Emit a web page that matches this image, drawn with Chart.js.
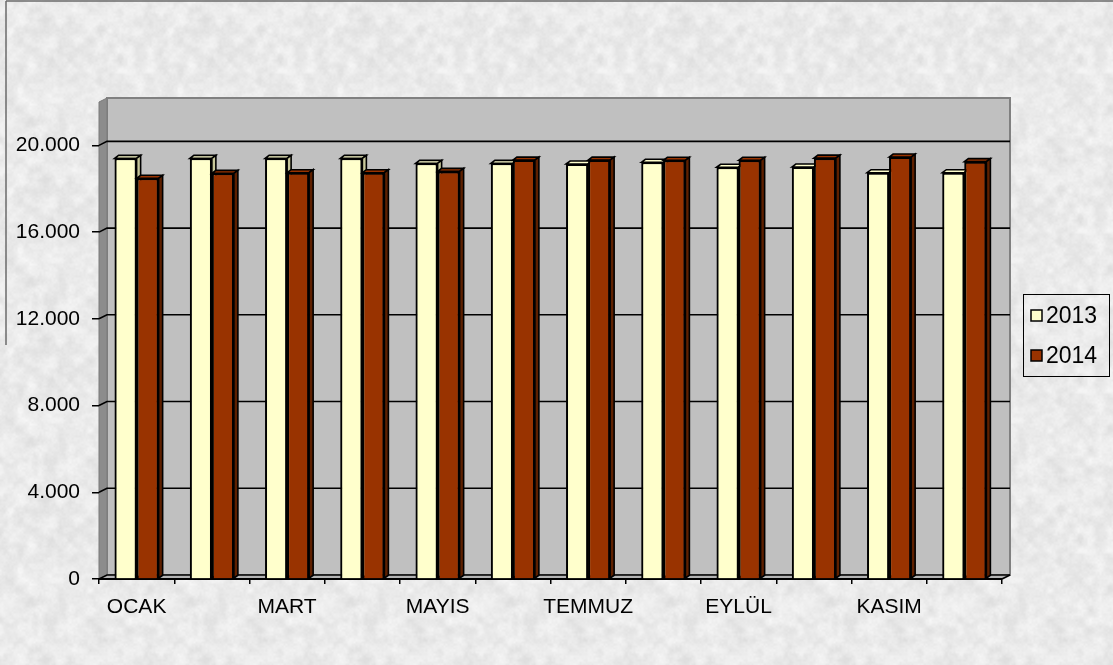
<!DOCTYPE html>
<html><head><meta charset="utf-8">
<script src="https://cdn.jsdelivr.net/npm/chart.js@4"></script>
<style>html,body{margin:0;padding:0;background:#e8e8e8;}#wrap{width:1113px;height:665px;}</style>
</head><body><div id="wrap"><canvas id="c" width="1113" height="665"></canvas></div>
<script>
const months = ['OCAK','ŞUBAT','MART','NİSAN','MAYIS','HAZİRAN','TEMMUZ','AĞUSTOS','EYLÜL','EKİM','KASIM','ARALIK'];
const values2013 = [19400,19400,19400,19400,19170,19170,19140,19220,18990,19000,18740,18740];
const values2014 = [18480,18710,18740,18740,18800,19320,19320,19310,19310,19410,19460,19250];
const seriesNames = ['2013','2014'];
const yTicks = [0,4000,8000,12000,16000,20000];
const yMax = 22000;

const FONT = '"Liberation Sans", Arial, sans-serif';
Chart.defaults.font.family = FONT;
Chart.defaults.color = '#000';

const wallD = {dx: 8, dy: -4};
const barD = {dx: 4, dy: -3};
const styles = [
  {front: '#FFFFCC', top: '#FFFFCC', side: '#C8C89A'},
  {front: '#993300', top: '#993300', side: '#5E2000'}
];

function hash(i, j) {
  let h = (Math.imul(i, 374761393) + Math.imul(j, 668265263)) | 0;
  h = Math.imul(h ^ (h >>> 13), 1274126177);
  h = h ^ (h >>> 16);
  return (h >>> 0) / 4294967295;
}
function makePattern(ctx) {
  const N = 160;
  const c = document.createElement('canvas');
  c.width = N; c.height = N;
  const g = c.getContext('2d');
  const img = g.createImageData(N, N);
  function noise(x, y, cell, seed) {
    const cells = N / cell;
    const gx = x / cell, gy = y / cell;
    const i0 = Math.floor(gx), j0 = Math.floor(gy);
    const fx = gx - i0, fy = gy - j0;
    const sx = fx * fx * (3 - 2 * fx), sy = fy * fy * (3 - 2 * fy);
    const H = (i, j) => hash((i % cells) + seed, (j % cells) + seed * 7);
    const a = H(i0, j0), b = H(i0 + 1, j0), cc = H(i0, j0 + 1), d = H(i0 + 1, j0 + 1);
    return (a * (1 - sx) + b * sx) * (1 - sy) + (cc * (1 - sx) + d * sx) * sy;
  }
  for (let y = 0; y < N; y++) for (let x = 0; x < N; x++) {
    const n = 0.5 * noise(x, y, 10, 11) + 0.3 * noise(x, y, 5, 23) + 0.2 * noise(x, y, 2, 37);
    const v = Math.round(234 + (n - 0.5) * 30);
    const k = (y * N + x) * 4;
    img.data[k] = v; img.data[k + 1] = v; img.data[k + 2] = v; img.data[k + 3] = 255;
  }
  g.putImageData(img, 0, 0);
  return ctx.createPattern(c, 'repeat');
}

function poly(ctx, pts, fill, stroke, lw) {
  ctx.beginPath();
  ctx.moveTo(pts[0][0], pts[0][1]);
  for (let i = 1; i < pts.length; i++) ctx.lineTo(pts[i][0], pts[i][1]);
  ctx.closePath();
  if (fill) { ctx.fillStyle = fill; ctx.fill(); }
  if (stroke) { ctx.strokeStyle = stroke; ctx.lineWidth = lw || 1; ctx.stroke(); }
}

const scene3d = {
  id: 'scene3d',
  beforeDraw(chart) {
    const ctx = chart.ctx;
    const {left: L, right: R, top: T, bottom: B} = chart.chartArea;
    const dx = wallD.dx, dy = wallD.dy;
    ctx.save();
    ctx.fillStyle = makePattern(ctx);
    ctx.fillRect(0, 0, chart.width, chart.height);
    // outer frame fragments
    ctx.strokeStyle = '#6a6a6a'; ctx.lineWidth = 1.5;
    ctx.beginPath(); ctx.moveTo(6, 1); ctx.lineTo(chart.width, 1); ctx.stroke();
    ctx.beginPath(); ctx.moveTo(6, 1); ctx.lineTo(6, 345); ctx.stroke();
    // back wall
    poly(ctx, [[L + dx, T + dy], [R + dx, T + dy], [R + dx, B + dy], [L + dx, B + dy]], '#C0C0C0', '#808080', 2);
    // side wall
    poly(ctx, [[L, T], [L + dx, T + dy], [L + dx, B + dy], [L, B]], '#8C8C8C', '#7a7a7a', 1);
    // floor
    poly(ctx, [[L, B], [L + dx, B + dy], [R + dx, B + dy], [R, B]], '#B4B4B4', null);
    // gridlines
    const ys = chart.scales.y;
    ctx.strokeStyle = '#000'; ctx.lineWidth = 1.6;
    yTicks.forEach(v => {
      const y = ys.getPixelForValue(v);
      ctx.beginPath();
      ctx.moveTo(L, y); ctx.lineTo(L + dx, y + dy); ctx.lineTo(R + dx, y + dy);
      ctx.stroke();
    });
    ctx.beginPath(); ctx.moveTo(R, B); ctx.lineTo(R + dx, B + dy); ctx.stroke();
    ctx.restore();
  },
  afterDatasetsDraw(chart) {
    const ctx = chart.ctx;
    ctx.save();
    chart.data.datasets.forEach((ds, di) => {
      const meta = chart.getDatasetMeta(di);
      const st = styles[di];
      meta.data.forEach(el => {
        el.draw(ctx, chart.chartArea);
        const p = el.getProps(['x', 'y', 'base', 'width'], true);
        const l = p.x - p.width / 2, r = p.x + p.width / 2;
        const y = p.y, b = p.base;
        poly(ctx, [[l, y], [l + barD.dx, y + barD.dy], [r + barD.dx, y + barD.dy], [r, y]], st.top, '#000', 1.6);
        poly(ctx, [[r, y], [r + barD.dx, y + barD.dy], [r + barD.dx, b + barD.dy], [r, b]], st.side, '#000', 1.6);
      });
    });
    ctx.restore();
  },
  afterDraw(chart) {
    const ctx = chart.ctx;
    ctx.save();
    const bx = 1023, by = 294, bw = 86, bh = 82;
    ctx.strokeStyle = '#000'; ctx.lineWidth = 1;
    ctx.strokeRect(bx + 0.5, by + 0.5, bw, bh);
    ctx.font = '23px ' + FONT;
    ctx.textBaseline = 'middle';
    ctx.textAlign = 'left';
    chart.data.datasets.forEach((ds, i) => {
      const cy = 316 + i * 40;
      ctx.fillStyle = ds.backgroundColor;
      ctx.fillRect(1031, cy - 6, 11, 11);
      ctx.strokeStyle = '#000'; ctx.lineWidth = 1.5;
      ctx.strokeRect(1031, cy - 6, 11, 11);
      ctx.fillStyle = '#000';
      ctx.fillText(ds.label, 1046, cy + 1);
    });
    ctx.restore();
  }
};

new Chart(document.getElementById('c'), {
  type: 'bar',
  data: {
    labels: months,
    datasets: [
      {label: seriesNames[0], data: values2013, backgroundColor: styles[0].front, borderColor: '#000', borderWidth: 2, borderSkipped: 'bottom'},
      {label: seriesNames[1], data: values2014, backgroundColor: styles[1].front, borderColor: '#000', borderWidth: 2, borderSkipped: 'bottom'}
    ]
  },
  options: {
    responsive: false,
    animation: false,
    devicePixelRatio: 1,
    datasets: {bar: {categoryPercentage: 0.585, barPercentage: 1}},
    layout: {padding: {left: 0, top: 102, right: 111, bottom: 0}},
    plugins: {legend: {display: false}, tooltip: {enabled: false}},
    scales: {
      x: {
        grid: {display: true, offset: true, drawOnChartArea: false, drawTicks: true, tickLength: 5, color: '#000', lineWidth: 1.5},
        border: {display: true, color: '#000', width: 2},
        ticks: {
          autoSkip: false, maxRotation: 0, minRotation: 0, padding: 11,
          font: {size: 21},
          callback: function (v, i) { return i % 2 === 0 ? this.getLabelForValue(v) : ''; }
        },
        afterFit(s) { s.height = 86; }
      },
      y: {
        min: 0, max: yMax,
        afterBuildTicks(s) { s.ticks = yTicks.map(v => ({value: v})); },
        grid: {display: true, drawOnChartArea: false, drawTicks: true, tickLength: 7, color: '#000', lineWidth: 1.5},
        border: {display: false},
        ticks: {
          padding: 12, font: {size: 21},
          callback: v => v === 0 ? '0' : v.toLocaleString('de-DE')
        },
        afterFit(s) { s.width = 99; }
      }
    }
  },
  plugins: [scene3d]
});
</script>
</body></html>
